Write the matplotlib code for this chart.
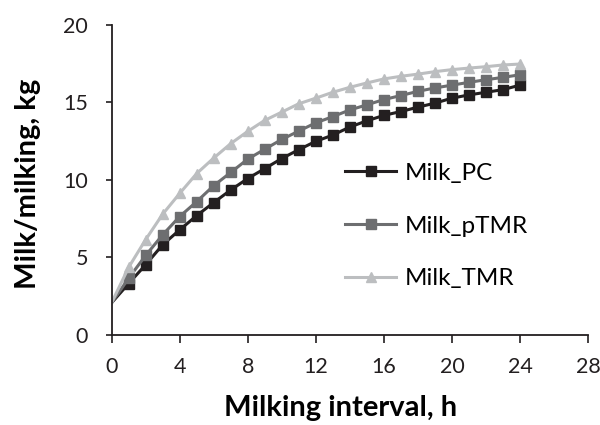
import numpy as np
import matplotlib
matplotlib.use("Agg")
import matplotlib.pyplot as plt

plt.rcParams['font.family'] = ['Lato', 'DejaVu Sans']

hours = list(range(0, 25))

milk_pc = [2.07, 3.31, 4.52, 5.81, 6.77, 7.69, 8.53, 9.34, 10.08, 10.72, 11.37, 11.94,
           12.48, 12.88, 13.40, 13.80, 14.15, 14.40, 14.68, 14.94, 15.26, 15.47, 15.64,
           15.81, 16.10]
milk_ptmr = [2.07, 3.65, 5.12, 6.45, 7.63, 8.59, 9.62, 10.47, 11.33, 11.97, 12.60, 13.14,
             13.67, 14.07, 14.50, 14.83, 15.17, 15.43, 15.70, 15.92, 16.10, 16.28, 16.45,
             16.60, 16.77]
milk_tmr = [2.07, 4.35, 6.14, 7.78, 9.12, 10.40, 11.40, 12.33, 13.12, 13.83, 14.36, 14.90,
            15.26, 15.64, 15.96, 16.24, 16.50, 16.67, 16.81, 16.97, 17.10, 17.20, 17.29,
            17.40, 17.46]

series = [
    ("Milk_PC", milk_pc, "#231f20", "s"),
    ("Milk_pTMR", milk_ptmr, "#6d6e70", "s"),
    ("Milk_TMR", milk_tmr, "#bcbec0", "^"),
]

fig = plt.figure(figsize=(6, 4.25), dpi=100)
ax = fig.add_axes([0.186, 0.212, 0.794, 0.730])

for name, vals, col, mk in series:
    ax.plot(hours, vals, color=col, lw=2.2, marker=mk, markersize=6.5,
            markevery=range(1, len(hours)), label=name)

ax.set_xlim(0, 28)
ax.set_ylim(0, 20)
ax.set_xticks(range(0, 29, 4))
ax.set_yticks(range(0, 21, 5))

for s in ["top", "right"]:
    ax.spines[s].set_visible(False)
for s in ["left", "bottom"]:
    ax.spines[s].set_linewidth(1.3)
    ax.spines[s].set_color("#231f20")

ax.tick_params(axis="x", length=6, width=1.2, labelsize=15.5, pad=10, colors="#231f20")
ax.tick_params(axis="y", length=4, width=1.2, labelsize=15.5, pad=13, colors="#231f20")

ax.set_xlabel("Milking interval, h", fontsize=21, fontweight="bold", va="baseline")
ax.xaxis.set_label_coords(0.48, -0.262)
ax.set_ylabel("Milk/milking, kg", fontsize=21, fontweight="bold", va="center")
ax.yaxis.set_label_coords(-0.175, 0.487)

ax.legend(loc="center left", bbox_to_anchor=(0.49, 0.351), frameon=False,
          fontsize=17.5, handlelength=2.1, labelspacing=1.3, handletextpad=0.35,
          borderaxespad=0, borderpad=0)

fig.savefig("out.png", dpi=100)
